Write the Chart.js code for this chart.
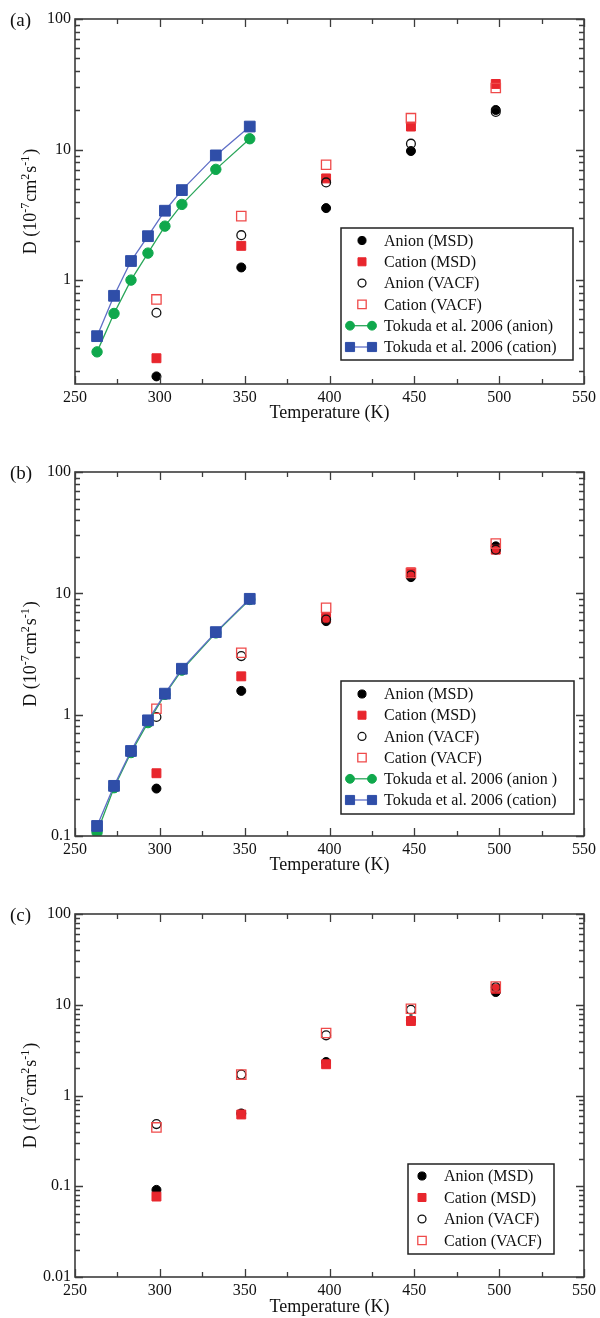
<!DOCTYPE html>
<html>
<head>
<meta charset="utf-8">
<script src="https://cdn.jsdelivr.net/npm/chart.js@4.4.1/dist/chart.umd.min.js"></script>
<style>
  html, body { margin: 0; padding: 0; background: #fff; }
  #wrap { position: relative; width: 600px; height: 1318px; overflow: hidden; }
  .panel { position: absolute; left: 0; width: 600px; }
  canvas { display: block; }
</style>
</head>
<body>
<div id="wrap">
  <div class="panel" style="top:0px;height:440px"><canvas id="pa" width="600" height="440"></canvas></div>
  <div class="panel" style="top:440px;height:440px"><canvas id="pb" width="600" height="440"></canvas></div>
  <div class="panel" style="top:880px;height:438px"><canvas id="pc" width="600" height="438"></canvas></div>
</div>
<script>
// Simulation temperatures (K) and Tokuda et al. 2006 experimental temperatures (K)
const mdTemps = [298, 348, 398, 448, 498];
const tokudaTemps = [263, 273, 283, 293, 303, 313, 333, 353];

// Diffusion coefficients, D (10^-7 cm^2 s^-1)
// Panel (a)
const aAnionMSD    = [0.183, 1.25, 3.56, 9.74, 20.1];
const aCationMSD   = [0.252, 1.83, 6.01, 15.0, 31.8];
const aAnionVACF   = [0.562, 2.21, 5.6, 11.1, 19.4];
const aCationVACF  = [0.711, 3.09, 7.65, 17.4, 29.6];
const aTokudaAnion  = [0.282, 0.555, 1.0, 1.61, 2.59, 3.80, 7.05, 12.1];
const aTokudaCation = [0.372, 0.758, 1.40, 2.17, 3.40, 4.89, 9.02, 15.0];

// Panel (b)
const bAnionMSD    = [0.246, 1.57, 5.90, 13.6, 24.4];
const bCationMSD   = [0.329, 2.07, 6.29, 14.9, 22.9];
const bAnionVACF   = [0.957, 3.04, 6.09, 14.1, 22.9];
const bCationVACF  = [1.12, 3.24, 7.6, 14.7, 25.7];
const bTokudaAnion  = [0.107, 0.25, 0.487, 0.86, 1.47, 2.33, 4.72, 8.9];
const bTokudaCation = [0.121, 0.259, 0.502, 0.898, 1.49, 2.39, 4.79, 9.01];

// Panel (c)
const cAnionMSD    = [0.0912, 0.634, 2.34, 6.73, 13.8];
const cCationMSD   = [0.077, 0.618, 2.21, 6.62, 15.0];
const cAnionVACF   = [0.484, 1.70, 4.60, 8.81, 15.6];
const cCationVACF  = [0.445, 1.70, 4.88, 9.04, 15.9];

// Axis ticks
const xTickValues = [250, 300, 350, 400, 450, 500, 550];
const aYTicks = [1, 10, 100];
const aYLabels = ['1', '10', '100'];
const bYTicks = [0.1, 1, 10, 100];
const bYLabels = ['0.1', '1', '10', '100'];
const cYTicks = [0.01, 0.1, 1, 10, 100];
const cYLabels = ['0.01', '0.1', '1', '10', '100'];

const SERIF = '"Liberation Serif", "DejaVu Serif", serif';

const STYLES = {
  anionMSD:    { pointStyle: 'circle', r: 4.5, bg: '#000000', border: '#000000', bw: 1 },
  cationMSD:   { pointStyle: 'rect',   r: 6.3, bg: '#e8262d', border: '#e8262d', bw: 1 },
  anionVACF:   { pointStyle: 'circle', r: 4.4, bg: 'rgba(0,0,0,0)', border: '#111111', bw: 1.3 },
  cationVACF:  { pointStyle: 'rect',   r: 6.6, bg: 'rgba(0,0,0,0)', border: '#ef4a4a', bw: 1.3 },
  tokudaAnion: { pointStyle: 'circle', r: 5.2, bg: '#0fa84c', border: '#0fa84c', bw: 1, line: '#2aa65a' },
  tokudaCation:{ pointStyle: 'rect',   r: 7.6, bg: '#2f4ea8', border: '#2f4ea8', bw: 1, line: '#5f6fc6' }
};

function series(key, label, temps, vals, order) {
  const st = STYLES[key];
  return {
    label: label,
    data: temps.map((t, i) => ({ x: t, y: vals[i] })),
    pointStyle: st.pointStyle,
    pointRadius: st.r,
    pointHoverRadius: st.r,
    pointBackgroundColor: st.bg,
    pointBorderColor: st.border,
    pointBorderWidth: st.bw,
    showLine: !!st.line,
    borderColor: st.line || st.border,
    borderWidth: st.line ? 1.3 : 0,
    backgroundColor: st.bg,
    order: order,
    styleKey: key
  };
}

function drawMarker(ctx, key, x, y, scale) {
  const st = STYLES[key];
  const r = st.r * (scale || 1);
  ctx.beginPath();
  if (st.pointStyle === 'circle') {
    ctx.arc(x, y, r, 0, Math.PI * 2);
  } else {
    const s = r * Math.SQRT1_2;
    ctx.rect(x - s, y - s, 2 * s, 2 * s);
  }
  ctx.fillStyle = st.bg;
  ctx.fill();
  ctx.strokeStyle = st.border;
  ctx.lineWidth = st.bw;
  ctx.stroke();
}

// Frame with inward ticks on all four sides, panel tag, y title, and boxed legend
function panelDecor(opts) {
  return {
    id: 'panelDecor',
    afterDraw(chart) {
      const { ctx, chartArea: a, scales: { x, y } } = chart;
      ctx.save();
      // frame
      ctx.strokeStyle = '#3c3c3c';
      ctx.lineWidth = 1.6;
      ctx.strokeRect(a.left, a.top, a.right - a.left, a.bottom - a.top);
      // x ticks: majors plus midpoints
      ctx.lineWidth = 1.3;
      ctx.beginPath();
      for (let i = 0; i < xTickValues.length; i++) {
        const v = xTickValues[i];
        const marks = [[v, 8]];
        if (i < xTickValues.length - 1) marks.push([(v + xTickValues[i + 1]) / 2, 5]);
        marks.forEach(([mv, len]) => {
          const px = Math.round(x.getPixelForValue(mv)) + 0.5;
          ctx.moveTo(px, a.bottom); ctx.lineTo(px, a.bottom - len);
          ctx.moveTo(px, a.top); ctx.lineTo(px, a.top + len);
        });
      }
      // y log ticks
      for (let e = -3; e <= 2; e++) {
        for (let k = 1; k <= 9; k++) {
          const v = k * Math.pow(10, e);
          if (v < y.min * 0.999 || v > y.max * 1.001) continue;
          const py = Math.round(y.getPixelForValue(v)) + 0.5;
          const len = k === 1 ? 8 : 5;
          ctx.moveTo(a.left, py); ctx.lineTo(a.left + len, py);
          ctx.moveTo(a.right, py); ctx.lineTo(a.right - len, py);
        }
      }
      ctx.stroke();

      // panel tag
      ctx.fillStyle = '#111';
      ctx.font = '19px ' + SERIF;
      ctx.textAlign = 'left';
      ctx.textBaseline = 'middle';
      ctx.fillText(opts.tag, 10, a.top + 2);

      // y title with superscripts
      const parts = [
        ['D (10', false], ['-7', true], ['cm', false], ['2', true], ['s', false], ['-1', true], [')', false]
      ];
      const big = '18px ' + SERIF, small = '12px ' + SERIF;
      let total = 0;
      const widths = parts.map(([t, sup]) => {
        ctx.font = sup ? small : big;
        const w = ctx.measureText(t).width + (sup ? 1 : 0);
        total += w;
        return w;
      });
      ctx.save();
      ctx.translate(30, (a.top + a.bottom) / 2);
      ctx.rotate(-Math.PI / 2);
      ctx.textAlign = 'left';
      ctx.textBaseline = 'alphabetic';
      let cx = -total / 2;
      parts.forEach(([t, sup], i) => {
        ctx.font = sup ? small : big;
        ctx.fillText(t, cx, sup ? -1 : 6);
        cx += widths[i];
      });
      ctx.restore();

      // legend
      const L = opts.legend;
      ctx.fillStyle = '#fff';
      ctx.fillRect(L.x, L.y, L.w, L.h);
      ctx.strokeStyle = '#222';
      ctx.lineWidth = 1.5;
      ctx.strokeRect(L.x, L.y, L.w, L.h);
      ctx.font = '16px ' + SERIF;
      ctx.textAlign = 'left';
      ctx.textBaseline = 'middle';
      const items = chart.data.datasets;
      items.forEach((ds, i) => {
        const cy = L.firstRow + i * L.rowH;
        const st = STYLES[ds.styleKey];
        if (st.line) {
          ctx.beginPath();
          ctx.strokeStyle = st.line;
          ctx.lineWidth = 1.3;
          ctx.moveTo(L.markX - 11, cy); ctx.lineTo(L.markX + 11, cy);
          ctx.stroke();
          drawMarker(ctx, ds.styleKey, L.markX - 11, cy, 0.85);
          drawMarker(ctx, ds.styleKey, L.markX + 11, cy, 0.85);
        } else {
          drawMarker(ctx, ds.styleKey, L.markX + 1, cy, 0.9);
        }
        ctx.fillStyle = '#111';
        ctx.fillText(ds.label, L.textX, cy + 1);
      });
      ctx.restore();
    }
  };
}

function makePanel(canvasId, cfg) {
  return new Chart(document.getElementById(canvasId), {
    type: 'scatter',
    data: { datasets: cfg.datasets },
    options: {
      responsive: false,
      animation: false,
      events: [],
      layout: { padding: { top: cfg.padTop, right: 13, left: 0, bottom: 0 } },
      plugins: { legend: { display: false }, tooltip: { enabled: false } },
      scales: {
        x: {
          type: 'linear',
          min: 250, max: 550,
          grid: { display: false, drawTicks: false },
          border: { display: false },
          afterBuildTicks: (axis) => { axis.ticks = xTickValues.map(v => ({ value: v })); },
          afterFit: (scale) => { scale.height = cfg.xAxisH; },
          ticks: {
            autoSkip: false, maxRotation: 0, padding: 4, color: '#111',
            font: { family: SERIF, size: 16 },
            callback: (v) => String(v)
          },
          title: {
            display: true, text: 'Temperature (K)', color: '#111',
            font: { family: SERIF, size: 18 },
            padding: { top: 0, bottom: cfg.xTitlePad }
          }
        },
        y: {
          type: 'logarithmic',
          min: cfg.yMin, max: 100,
          grid: { display: false, drawTicks: false },
          border: { display: false },
          afterBuildTicks: (axis) => { axis.ticks = cfg.yTicks.map(v => ({ value: v })); },
          afterFit: (scale) => { scale.width = 75; },
          ticks: {
            autoSkip: false, padding: 4, color: '#111',
            font: { family: SERIF, size: 16 },
            callback: (v) => {
              const i = cfg.yTicks.findIndex(t => Math.abs(t - v) / t < 1e-6);
              return i >= 0 ? cfg.yLabels[i] : '';
            }
          }
        }
      }
    },
    plugins: [panelDecor({ tag: cfg.tag, legend: cfg.legend })]
  });
}

makePanel('pa', {
  tag: '(a)', padTop: 19, xAxisH: 56, xTitlePad: 16, yMin: 0.16,
  yTicks: aYTicks, yLabels: aYLabels,
  legend: { x: 341, y: 228, w: 232, h: 132, firstRow: 240.5, rowH: 21.3, markX: 361, textX: 384 },
  datasets: [
    series('anionMSD', 'Anion (MSD)', mdTemps, aAnionMSD, 5),
    series('cationMSD', 'Cation (MSD)', mdTemps, aCationMSD, 4),
    series('anionVACF', 'Anion (VACF)', mdTemps, aAnionVACF, 3),
    series('cationVACF', 'Cation (VACF)', mdTemps, aCationVACF, 2),
    series('tokudaAnion', 'Tokuda et al. 2006 (anion)', tokudaTemps, aTokudaAnion, 1),
    series('tokudaCation', 'Tokuda et al. 2006 (cation)', tokudaTemps, aTokudaCation, 0)
  ]
});

makePanel('pb', {
  tag: '(b)', padTop: 32, xAxisH: 44, xTitlePad: 4, yMin: 0.1,
  yTicks: bYTicks, yLabels: bYLabels,
  legend: { x: 341, y: 241, w: 233, h: 133, firstRow: 254, rowH: 21.2, markX: 361, textX: 384 },
  datasets: [
    series('anionMSD', 'Anion (MSD)', mdTemps, bAnionMSD, 5),
    series('cationMSD', 'Cation (MSD)', mdTemps, bCationMSD, 4),
    series('anionVACF', 'Anion (VACF)', mdTemps, bAnionVACF, 3),
    series('cationVACF', 'Cation (VACF)', mdTemps, bCationVACF, 2),
    series('tokudaAnion', 'Tokuda et al. 2006 (anion )', tokudaTemps, bTokudaAnion, 1),
    series('tokudaCation', 'Tokuda et al. 2006 (cation)', tokudaTemps, bTokudaCation, 0)
  ]
});

makePanel('pc', {
  tag: '(c)', padTop: 34, xAxisH: 41, xTitlePad: 0, yMin: 0.01,
  yTicks: cYTicks, yLabels: cYLabels,
  legend: { x: 408, y: 284, w: 146, h: 90, firstRow: 296, rowH: 21.5, markX: 421, textX: 444 },
  datasets: [
    series('anionMSD', 'Anion (MSD)', mdTemps, cAnionMSD, 3),
    series('cationMSD', 'Cation (MSD)', mdTemps, cCationMSD, 2),
    series('anionVACF', 'Anion (VACF)', mdTemps, cAnionVACF, 1),
    series('cationVACF', 'Cation (VACF)', mdTemps, cCationVACF, 0)
  ]
});
</script>
</body>
</html>
